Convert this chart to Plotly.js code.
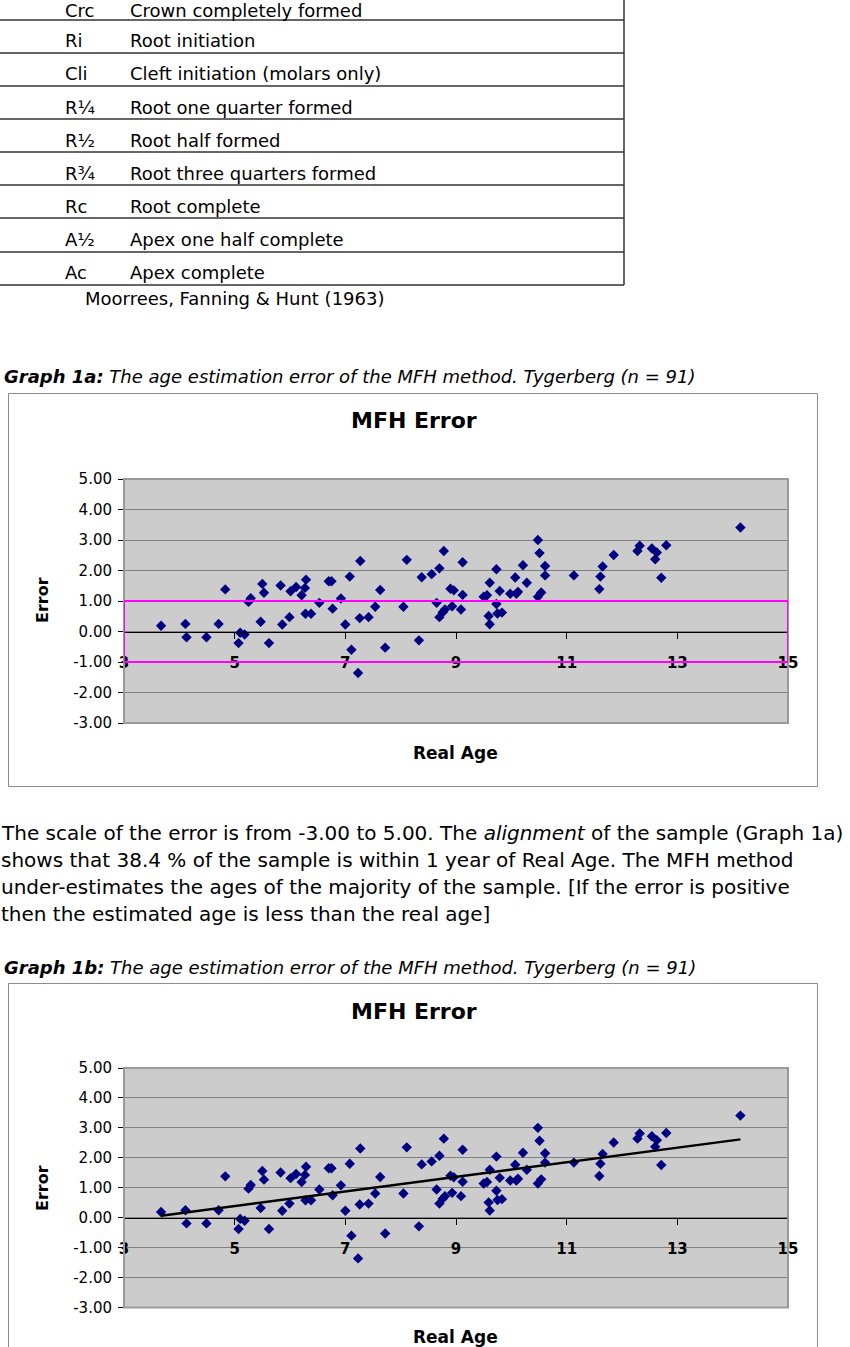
<!DOCTYPE html>
<html>
<head>
<meta charset="utf-8">
<script src="https://cdn.plot.ly/plotly-3.0.1.min.js"></script>
<style>
html,body{margin:0;padding:0;background:#fff;}
#chart{width:850px;height:1347px;}
</style>
</head>
<body>
<div id="chart"></div>
<script>
// ---------- data ----------
const stageCodes = ["Crc","Ri","Cli","R¼","R½","R¾","Rc","A½","Ac"];
const stageNames = ["Crown completely formed","Root initiation","Cleft initiation (molars only)",
  "Root one quarter formed","Root half formed","Root three quarters formed",
  "Root complete","Apex one half complete","Apex complete"];
const tableSource = "Moorrees, Fanning & Hunt (1963)";

const realAge = [3.67,4.11,4.13,4.49,4.71,4.83,5.07,5.10,5.18,5.29,5.25,5.47,5.50,5.53,5.62,5.83,5.86,5.99,6.01,6.11,6.21,
  6.29,6.27,6.28,6.38,6.53,6.70,6.75,6.77,6.92,7.00,7.08,7.11,7.26,7.27,7.23,7.42,7.54,7.63,7.72,8.05,
  8.11,8.33,8.38,8.56,8.70,8.78,8.65,8.70,8.76,8.80,8.90,8.96,8.93,9.09,9.12,9.12,
  9.50,9.56,9.61,9.59,9.61,9.73,9.73,9.79,9.75,9.83,9.98,10.07,10.09,10.12,10.21,10.28,10.48,10.51,10.48,10.54,
  10.61,10.61,11.13,11.59,11.61,11.65,11.85,12.28,12.32,12.54,12.63,12.60,12.71,12.80,14.14];
const ageError = [0.19,0.25,-0.19,-0.19,0.25,1.38,-0.38,-0.04,-0.10,1.09,0.97,0.32,1.56,1.27,-0.38,1.51,0.23,0.47,1.32,1.46,1.19,
  1.70,1.43,0.58,0.58,0.94,1.65,1.65,0.75,1.08,0.23,1.80,-0.60,0.44,2.31,-1.36,0.47,0.81,1.36,-0.53,0.81,
  2.35,-0.29,1.78,1.88,2.07,2.64,0.94,0.47,0.63,0.72,1.40,1.35,0.83,0.72,2.27,1.20,
  1.14,1.19,1.60,0.51,0.24,2.04,0.90,1.33,0.59,0.62,1.24,1.77,1.24,1.30,2.17,1.60,3.00,2.57,1.14,1.28,
  2.15,1.84,1.84,1.39,1.80,2.13,2.51,2.64,2.81,2.72,2.59,2.37,1.76,2.83,3.41];
const xTicks = [3,5,7,9,11,13,15];
const yTicks = [-3,-2,-1,0,1,2,3,4,5];
const bandLow = -1, bandHigh = 1;  // within-1-year band (Graph 1a)

// linear trend (least squares) from the data, as Excel trendline
function fit(xs, ys){
  const n = xs.length; let sx=0, sy=0, sxx=0, sxy=0;
  for(let i=0;i<n;i++){ sx+=xs[i]; sy+=ys[i]; sxx+=xs[i]*xs[i]; sxy+=xs[i]*ys[i]; }
  const b = (n*sxy - sx*sy)/(n*sxx - sx*sx); const a = (sy - b*sx)/n;
  return {a, b};
}
const tr = fit(realAge, ageError);
const trendX = [Math.min(...realAge), Math.max(...realAge)];
const trendY = trendX.map(x => tr.a + tr.b*x);

// ---------- layout helpers ----------
const W = 850, H = 1347;
const px = x => x / W;
const py = y => 1 - y / H;
const FONT = "DejaVu Sans, Verdana, sans-serif";

const xDom = [px(124), px(788)];
const yDom1 = [py(723), py(479)];
const yDom2 = [py(1307.5), py(1068)];
const zeroPos = d => d[0] + (0 - (-3)) / 8 * (d[1] - d[0]);

function xAxis(dom, pos){
  return {domain: dom, range: [3, 15], anchor: 'free', position: pos,
    tickvals: xTicks, ticktext: xTicks.map(String), showgrid: false, zeroline: false,
    showline: true, linecolor: '#000', linewidth: 1, ticks: 'outside', ticklen: 6, tickcolor: '#000',
    ticklabelstandoff: 11,
    tickfont: {family: FONT, size: 15, color: '#000', weight: 'bold'}, fixedrange: true};
}
function yAxis(dom, anchor){
  return {domain: dom, range: [-3, 5], anchor: anchor, tickvals: yTicks,
    ticktext: yTicks.map(v => v.toFixed(2)), showgrid: true, gridcolor: '#808080', gridwidth: 1,
    zeroline: false, showline: true, linecolor: '#000', linewidth: 1, ticks: 'outside', ticklen: 5,
    tickcolor: '#000', ticklabelstandoff: 3,
    tickfont: {family: FONT, size: 15, color: '#000'}, fixedrange: true};
}

const ann = [];
const shapes = [];
function txt(x, y, text, size, opts){
  ann.push(Object.assign({xref: 'paper', yref: 'paper', x: px(x), y: py(y), text: text, showarrow: false,
    xanchor: 'left', yanchor: 'middle', align: 'left',
    font: {family: FONT, size: size, color: '#000'}}, opts || {}));
}
function line(x0, y0, x1, y1, color, width){
  shapes.push({type: 'line', xref: 'paper', yref: 'paper', x0: px(x0), y0: py(y0), x1: px(x1), y1: py(y1),
    line: {color: color, width: width}});
}
function rect(x0, y0, x1, y1, color, width){
  shapes.push({type: 'rect', xref: 'paper', yref: 'paper', x0: px(x0), y0: py(y0), x1: px(x1), y1: py(y1),
    line: {color: color, width: width}, fillcolor: 'rgba(0,0,0,0)', layer: 'above'});
}

// table
const rowLines = [20, 53, 86, 119, 152, 185, 218, 252, 285];
rowLines.forEach(y => line(0, y, 624, y, '#333', 1.5));
line(624, 0, 624, 285, '#333', 1.5);
stageCodes.forEach((c, i) => {
  const y = (i === 0 ? 10 : 8 + 33 * i);
  txt(63, y, c, 18);
  txt(128, y, stageNames[i], 18);
});
txt(83, 298, tableSource, 18);

// captions & paragraph
txt(2, 376, "<i><b>Graph 1a:</b> The age estimation error of the MFH method. Tygerberg (n = 91)</i>", 18);
const para = [
  "The scale of the error is from -3.00 to 5.00. The <i>alignment</i> of the sample (Graph 1a)",
  "shows that 38.4 % of the sample is within 1 year of Real Age. The MFH method",
  "under-estimates the ages of the majority of the sample. [If the error is positive",
  "then the estimated age is less than the real age]"];
para.forEach((t, i) => txt(-1, 833 + 27 * i, t, 20));
txt(2, 967, "<i><b>Graph 1b:</b> The age estimation error of the MFH method. Tygerberg (n = 91)</i>", 18);

// chart frames & titles
rect(8.5, 393.5, 817.5, 786.5, '#8c8c8c', 1);
rect(8.5, 983.5, 817.5, 1360, '#8c8c8c', 1);
[[421, 600, 753], [1011, 1188, 1337]].forEach(([ty, ey, ry]) => {
  txt(414, ty, "<b>MFH Error</b>", 22, {xanchor: 'center'});
  txt(42, ey, "<b>Error</b>", 16, {xanchor: 'center', textangle: -90});
  txt(455, ry, "<b>Real Age</b>", 17, {xanchor: 'center'});
});
// plot area borders
rect(124, 479, 788, 723, '#9a9a9a', 2);
rect(124, 1068, 788, 1307.5, '#9a9a9a', 2);
// within-one-year band (data coordinates)
shapes.push({type: 'rect', xref: 'x', yref: 'y', x0: xTicks[0], x1: xTicks[xTicks.length - 1], y0: bandLow, y1: bandHigh,
  line: {color: '#ff00ff', width: 2}, fillcolor: 'rgba(0,0,0,0)', layer: 'above'});

const marker = {symbol: 'diamond', size: 8, color: '#000080', line: {width: 0}};
const data = [
  {type: 'scatter', mode: 'markers', x: realAge, y: ageError, xaxis: 'x', yaxis: 'y', marker: marker, hoverinfo: 'x+y'},
  {type: 'scatter', mode: 'markers', x: realAge, y: ageError, xaxis: 'x2', yaxis: 'y2', marker: marker, hoverinfo: 'x+y'},
  {type: 'scatter', mode: 'lines', x: trendX, y: trendY, xaxis: 'x2', yaxis: 'y2', line: {color: '#000', width: 2.5}, hoverinfo: 'skip'}
];

const layout = {
  width: W, height: H, margin: {l: 0, r: 0, t: 0, b: 0, pad: 0},
  paper_bgcolor: '#fff', plot_bgcolor: '#cccccc', showlegend: false,
  font: {family: FONT, color: '#000'},
  xaxis: xAxis(xDom, zeroPos(yDom1)),
  yaxis: yAxis(yDom1, 'x'),
  xaxis2: xAxis(xDom, zeroPos(yDom2)),
  yaxis2: yAxis(yDom2, 'x2'),
  annotations: ann, shapes: shapes
};

Plotly.newPlot('chart', data, layout, {displayModeBar: false, staticPlot: true});
</script>
</body>
</html>
